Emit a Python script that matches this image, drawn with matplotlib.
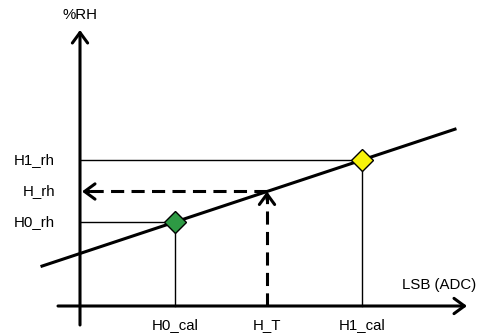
import matplotlib.pyplot as plt

# calibration diagram: values in drawing units, origin at the axes crossing
cal_names = ["H0", "H1"]
cal_x = [95, 282]        # H0_cal, H1_cal (LSB)
cal_y = [84, 146]        # H0_rh, H1_rh (%RH)
cal_colors = ["#2e9a44", "#f7f20a"]
h_t = 187                # measured raw value

x_ticks = [cal_x[0], h_t, cal_x[1]]
x_tick_labels = ["H0_cal", "H_T", "H1_cal"]
y_tick_labels = ["H0_rh", "H_rh", "H1_rh"]

line_x = [-38, 375]      # extent of the calibration line

slope = (cal_y[1] - cal_y[0]) / (cal_x[1] - cal_x[0])
def lin(x):
    return cal_y[0] + slope * (x - cal_x[0])
h_rh = lin(h_t)

plt.rcParams['font.family'] = ['Liberation Sans', 'DejaVu Sans']

fig = plt.figure(figsize=(4.79, 3.36), dpi=100)
ax = fig.add_axes([0, 0, 1, 1])
ax.set_xlim(-80, 399)
ax.set_ylim(-30, 306)
ax.axis('off')

axis_arrow = dict(arrowstyle='->,head_length=0.75,head_width=0.55', lw=2.2,
                  color='black', shrinkA=0, shrinkB=0)
# axes
ax.annotate('', xy=(387, 0), xytext=(-22, 0), arrowprops=axis_arrow)
ax.annotate('', xy=(0, 276), xytext=(0, -19), arrowprops=axis_arrow)

# thin guide lines to the calibration points
for cx, cy in zip(cal_x, cal_y):
    ax.plot([0, cx], [cy, cy], color='black', lw=1.0, zorder=2)
    ax.plot([cx, cx], [0, cy], color='black', lw=1.0, zorder=2)

# calibration line
ax.plot(line_x, [lin(v) for v in line_x], color='black', lw=2.2, zorder=3)

# dashed read-out arrows
dash = (0, (4.3, 2.4))
ax.plot([h_t, h_t], [0, h_rh - 3], color='black', lw=2.2, linestyle=dash, zorder=3)
ax.plot([h_t, 3], [h_rh, h_rh], color='black', lw=2.2, linestyle=dash, zorder=3)
head = dict(arrowstyle='->,head_length=0.75,head_width=0.55', lw=2.2,
            color='black', shrinkA=0, shrinkB=0)
ax.annotate('', xy=(h_t, h_rh), xytext=(h_t, h_rh - 8), arrowprops=head)
ax.annotate('', xy=(2, h_rh), xytext=(10, h_rh), arrowprops=head)

# calibration points
for cx, cy, c in zip(cal_x, cal_y, cal_colors):
    ax.plot(cx, cy, marker='D', markersize=11.5, markerfacecolor=c,
            markeredgecolor='black', markeredgewidth=1.0, zorder=4)

# labels
fs = 10.8
for xv, lab in zip(x_ticks, x_tick_labels):
    ax.text(xv, -12, lab, ha='center', va='top', fontsize=fs)
for yv, lab in zip([cal_y[0], h_rh, cal_y[1]], y_tick_labels):
    ax.text(-25, yv, lab, ha='right', va='center', fontsize=fs)
ax.text(0, 291, "%RH", ha='center', va='center', fontsize=fs)
ax.text(396, 21, "LSB (ADC)", ha='right', va='center', fontsize=fs)

fig.savefig('out.png', dpi=100)
